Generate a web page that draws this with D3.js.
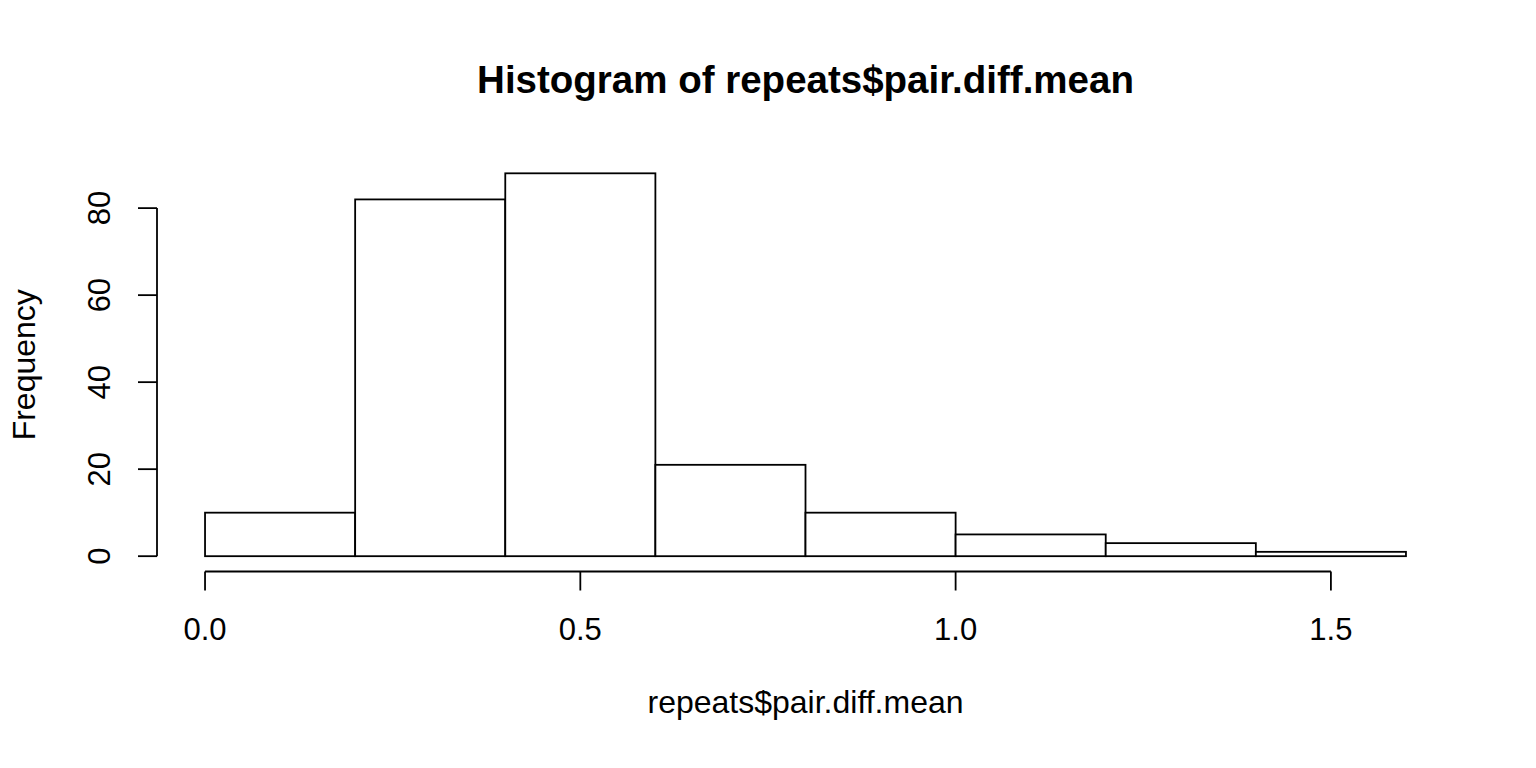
<!DOCTYPE html>
<html><head><meta charset="utf-8">
<script src="https://cdn.jsdelivr.net/npm/d3@7"></script>
<style>
html,body{margin:0;padding:0;background:#fff;}
svg{display:block;}
text{font-family:"Liberation Sans",Arial,sans-serif;fill:#000;}
</style></head>
<body>
<script>
const binEdges = [0.0,0.2,0.4,0.6,0.8,1.0,1.2,1.4,1.6];
const counts = [10,82,88,21,10,5,3,1];
const xTicks = [0.0,0.5,1.0,1.5];
const xTickLabels = ["0.0","0.5","1.0","1.5"];
const yTicks = [0,20,40,60,80];
const yTickLabels = ["0","20","40","60","80"];
const titleText = "Histogram of repeats$pair.diff.mean";
const xLabel = "repeats$pair.diff.mean";
const yLabel = "Frequency";

const W=1536,H=768;
const svg=d3.select("body").append("svg").attr("width",W).attr("height",H);

const x=d3.scaleLinear().domain([-0.064,1.664]).range([157,1454]);
const y=d3.scaleLinear().domain([-3.52,91.52]).range([571.5,158]);
const sw=1.8;

// bars
const bins = counts.map((c,i)=>({x0:binEdges[i],x1:binEdges[i+1],c}));
svg.append("g").selectAll("rect").data(bins).join("rect")
  .attr("x",d=>x(d.x0)).attr("width",d=>x(d.x1)-x(d.x0))
  .attr("y",d=>y(d.c)).attr("height",d=>y(0)-y(d.c))
  .attr("fill","#fff").attr("stroke","#000").attr("stroke-width",sw);

// x axis
const gx=svg.append("g").attr("transform",`translate(0,${y(-3.52)})`);
gx.append("line").attr("x1",x(xTicks[0])).attr("x2",x(xTicks[xTicks.length-1]))
  .attr("stroke","#000").attr("stroke-width",sw);
gx.selectAll("line.t").data(xTicks).join("line").attr("class","t")
  .attr("x1",d=>x(d)).attr("x2",d=>x(d)).attr("y1",0).attr("y2",19)
  .attr("stroke","#000").attr("stroke-width",sw);
gx.selectAll("text").data(xTicks).join("text")
  .attr("x",d=>x(d)).attr("y",68).attr("text-anchor","middle")
  .attr("font-size",31).text((d,i)=>xTickLabels[i]);

// y axis
const gy=svg.append("g").attr("transform",`translate(${x(-0.064)},0)`);
gy.append("line").attr("y1",y(yTicks[0])).attr("y2",y(yTicks[yTicks.length-1]))
  .attr("stroke","#000").attr("stroke-width",sw);
gy.selectAll("line.t").data(yTicks).join("line").attr("class","t")
  .attr("y1",d=>y(d)).attr("y2",d=>y(d)).attr("x1",0).attr("x2",-19)
  .attr("stroke","#000").attr("stroke-width",sw);
gy.selectAll("text").data(yTicks).join("text")
  .attr("transform",d=>`translate(-47,${y(d)}) rotate(-90)`)
  .attr("text-anchor","middle").attr("font-size",31).text((d,i)=>yTickLabels[i]);

// titles
svg.append("text").attr("x",(x.range()[0]+x.range()[1])/2).attr("y",93)
  .attr("text-anchor","middle").attr("font-size",38.5).attr("font-weight","bold").text(titleText);
svg.append("text").attr("x",(x.range()[0]+x.range()[1])/2).attr("y",713)
  .attr("text-anchor","middle").attr("font-size",32).text(xLabel);
svg.append("text").attr("transform",`translate(35,${(y.range()[0]+y.range()[1])/2}) rotate(-90)`)
  .attr("text-anchor","middle").attr("font-size",32).text(yLabel);
</script>
</body></html>
